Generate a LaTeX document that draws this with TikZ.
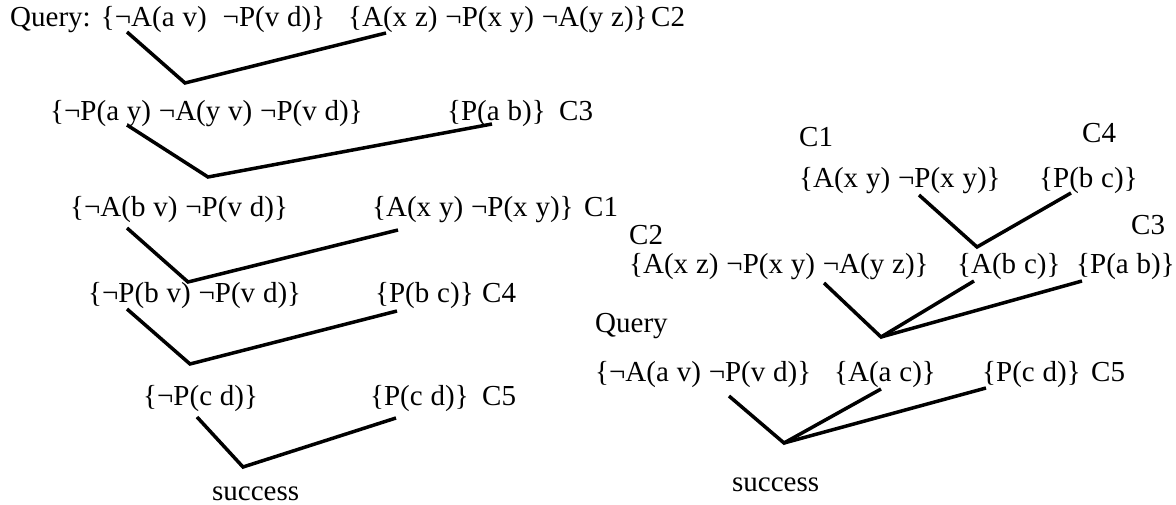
\documentclass[tikz,border=0pt]{standalone}
\usepackage{fontspec}
\setmainfont{Liberation Serif}
\newcommand{\clausefont}{\fontsize{29}{34}\selectfont\spaceskip 0.27em plus 0.1em\relax}
\newcommand{\nt}{¬}
\tikzset{
  clause/.style={anchor=base west, inner sep=0pt, font=\clausefont},
  link/.style={line width=3.5pt, line join=miter}
}

\begin{document}
\begin{tikzpicture}[x=1pt, y=-1pt]
  \useasboundingbox (0,0) rectangle (1176,505);
  \node[clause] (lq)  at (10,27)  {Query: \{\nt A(a v)\hspace{0.55em}\nt P(v d)\}};
  \node[clause] (lc2) at (348,27) {\{A(x z) \nt P(x y) \nt A(y z)\}};
  \node[clause] (lt2) at (651,27) {C2};
  \node[clause] (lr1) at (50,121) {\{\nt P(a y) \nt A(y v) \nt P(v d)\}};
  \node[clause] (lc3) at (447,121) {\{P(a b)\}};
  \node[clause] (lt3) at (559,121) {C3};
  \node[clause] (lr2) at (70,217) {\{\nt A(b v) \nt P(v d)\}};
  \node[clause] (lc1) at (372,217) {\{A(x y) \nt P(x y)\}};
  \node[clause] (lt1) at (584,217) {C1};
  \node[clause] (lr3) at (88,302) {\{\nt P(b v) \nt P(v d)\}};
  \node[clause] (lc4) at (375,302) {\{P(b c)\}};
  \node[clause] (lt4) at (482,302) {C4};
  \node[clause] (lr4) at (143,405) {\{\nt P(c d)\}};
  \node[clause] (lc5) at (370,405) {\{P(c d)\}};
  \node[clause] (lt5) at (482,405) {C5};
  \node[clause] (lok) at (212,500) {success};
  \coordinate (j1) at (185,83);
  \coordinate (j2) at (208,177);
  \coordinate (j3) at (188,282);
  \coordinate (j4) at (190,364);
  \coordinate (j5) at (243,467);
  \draw[link] ([shift={(117,5)}]lq.base west) -- (j1) -- ([shift={(38,6)}]lc2.base west);
  \draw[link] ([shift={(77,4)}]lr1.base west) -- (j2) -- ([shift={(45,3)}]lc3.base west);
  \draw[link] ([shift={(57,11)}]lr2.base west) -- (j3) -- ([shift={(26,13)}]lc1.base west);
  \draw[link] ([shift={(39,7)}]lr3.base west) -- (j4) -- ([shift={(22,9)}]lc4.base west);
  \draw[link] ([shift={(54,12)}]lr4.base west) -- (j5) -- ([shift={(26,13)}]lc5.base west);

  \node[clause] (rt1) at (799,147) {C1};
  \node[clause] (rc1) at (799,188) {\{A(x y) \nt P(x y)\}};
  \node[clause] (rt4) at (1082,143) {C4};
  \node[clause] (rc4) at (1039,188) {\{P(b c)\}};
  \node[clause] (rt2) at (629,245) {C2};
  \node[clause] (rc2) at (629,273) {\{A(x z) \nt P(x y) \nt A(y z)\}};
  \node[clause] (rbc) at (957,273) {\{A(b c)\}};
  \node[clause] (rt3) at (1131,235) {C3};
  \node[clause] (rc3) at (1076,273) {\{P(a b)\}};
  \node[clause] (rtq) at (595,332) {Query};
  \node[clause] (rq)  at (595,381) {\{\nt A(a v) \nt P(v d)\}};
  \node[clause] (rac) at (834,381) {\{A(a c)\}};
  \node[clause] (rc5) at (982,381) {\{P(c d)\}};
  \node[clause] (rt5) at (1091,381) {C5};
  \node[clause] (rok) at (732,491) {success};
  \coordinate (k1) at (977,247);
  \coordinate (k2) at (881,337);
  \coordinate (k3) at (784,443);
  \draw[link] ([shift={(120,7)}]rc1.base west) -- (k1) -- ([shift={(32,5)}]rc4.base west);
  \draw[link] ([shift={(195,10)}]rc2.base west) -- (k2) -- ([shift={(17,8)}]rbc.base west);
  \draw[link] (k2) -- ([shift={(6,8)}]rc3.base west);
  \draw[link] ([shift={(134,15)}]rq.base west) -- (k3) -- ([shift={(47,8)}]rac.base west);
  \draw[link] (k3) -- ([shift={(4,7)}]rc5.base west);
\end{tikzpicture}
\end{document}
